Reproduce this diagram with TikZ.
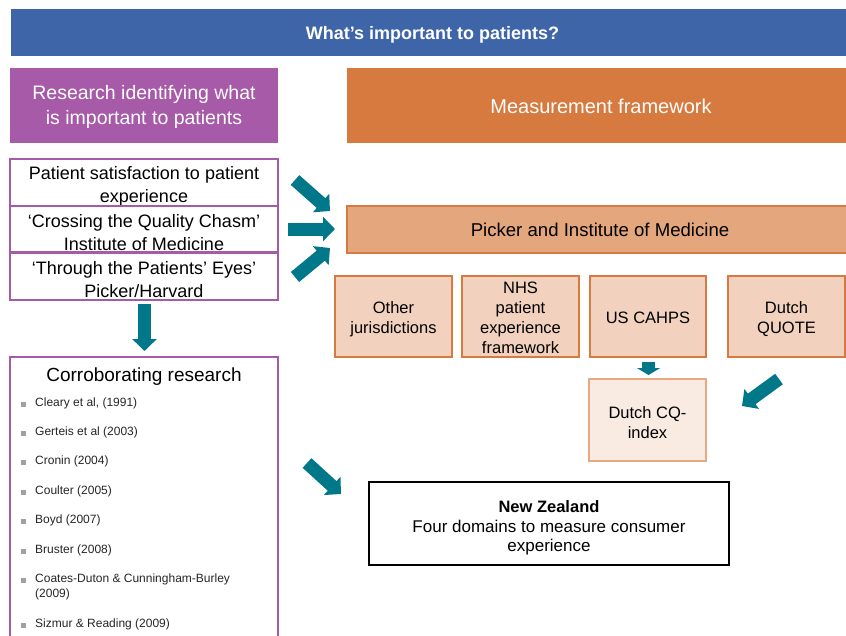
\documentclass[tikz,border=0pt]{standalone}
\usepackage{fontspec}
\setmainfont{Liberation Sans}
\usetikzlibrary{arrows.meta}
\definecolor{bannerblue}{HTML}{3F65A9}
\definecolor{hdrpurple}{HTML}{A65AA8}
\definecolor{hdrorange}{HTML}{D77A3F}
\definecolor{pickfill}{HTML}{E3A67D}
\definecolor{subfill}{HTML}{F2D2BE}
\definecolor{cqfill}{HTML}{FAEBE2}
\definecolor{cqdraw}{HTML}{E8A882}
\definecolor{arrowteal}{HTML}{00788A}
\definecolor{bulletgray}{HTML}{A0A0A0}
\definecolor{bullettxt}{HTML}{262626}
\begin{document}
\begin{tikzpicture}[x=1pt,y=-1pt,
  box/.style={inner sep=0pt, outer sep=0pt, anchor=north west},
  txt/.style={inner sep=0pt, align=center},
  leftbox/.style={box, draw=hdrpurple, line width=2.5pt, minimum width=268pt},
  lefttxt/.style={txt, font=\fontsize{18}{23}\selectfont},
  subbox/.style={box, fill=subfill, draw=hdrorange, line width=2.5pt, minimum height=81pt},
  subtxt/.style={txt, font=\fontsize{16.5}{20}\selectfont},
  blockarrow/.style={draw=arrowteal, line width=13pt, -{Triangle[width=24pt,length=12pt]}},
  bulletsq/.style={fill=bulletgray, minimum size=5pt, inner sep=0pt},
  bullettext/.style={anchor=west, inner sep=0pt, font=\fontsize{12}{15}\selectfont, text=bullettxt, align=left}]
\clip (0,0) rectangle (846,635);
\fill[white] (0,0) rectangle (846,635);

% top banner
\node[box, fill=bannerblue, minimum width=843pt, minimum height=47pt] (banner) at (11,9) {};
\node[txt, text=white, font=\bfseries\fontsize{18}{21}\selectfont] (title) at ([yshift=-2pt]banner.center) {What’s important to patients?};

% headers
\node[box, fill=hdrpurple, minimum width=268pt, minimum height=75pt] (research) at (10,68) {};
\node[txt, text=white, font=\fontsize{19.5}{25}\selectfont] (researchtxt) at ([yshift=-1.5pt]research.center) {Research identifying what\\is important to patients};
\node[box, fill=hdrorange, minimum width=508pt, minimum height=75pt] (measure) at (347,68) {};
\node[txt, text=white, font=\fontsize{20}{25}\selectfont] (measuretxt) at ([yshift=-1pt]measure.center) {Measurement framework};

% left boxes
\node[leftbox, minimum height=47pt] (sat) at (10,159) {};
\node[lefttxt] (sattxt) at ([yshift=-3.5pt]sat.center) {Patient satisfaction to patient\\experience};
\node[leftbox, minimum height=46pt] (chasm) at (10,206) {};
\node[lefttxt] (chasmtxt) at ([yshift=-3.5pt]chasm.center) {‘Crossing the Quality Chasm’\\Institute of Medicine};
\node[leftbox, minimum height=47pt] (eyes) at (10,253) {};
\node[lefttxt] (eyestxt) at ([yshift=-3.5pt]eyes.center) {‘Through the Patients’ Eyes’\\Picker/Harvard};

% Picker box
\node[box, fill=pickfill, draw=hdrorange, line width=2.5pt, minimum width=506pt, minimum height=47pt] (picker) at (347,206) {};
\node[txt, font=\fontsize{18.6}{23}\selectfont] (pickertxt) at (picker.center) {Picker and Institute of Medicine};

% sub boxes
\node[subbox, minimum width=117pt] (other) at (335,276) {};
\node[subtxt] (othertxt) at ([yshift=-3pt]other.center) {Other\\jurisdictions};
\node[subbox, minimum width=117pt] (nhs) at (462,276) {};
\node[subtxt] (nhstxt) at ([yshift=-1pt]nhs.center) {NHS\\patient\\experience\\framework};
\node[subbox, minimum width=116pt] (cahps) at (590,276) {};
\node[subtxt] (cahpstxt) at ([yshift=-1pt]cahps.center) {US CAHPS};
\node[subbox, minimum width=117pt] (quote) at (728,276) {};
\node[subtxt] (quotetxt) at ([yshift=-3pt]quote.center) {Dutch\\QUOTE};

% Dutch CQ-index
\node[box, fill=cqfill, draw=cqdraw, line width=2.5pt, minimum width=117pt, minimum height=82pt] (cq) at (589,379) {};
\node[subtxt] (cqtxt) at ([yshift=-3pt]cq.center) {Dutch CQ-\\index};

% New Zealand
\node[box, draw=black, line width=2pt, minimum width=360pt, minimum height=83pt] (nz) at (369,482) {};
\node[txt, font=\fontsize{17}{19.5}\selectfont] (nztxt) at ([yshift=-4.5pt]nz.center) {{\bfseries\fontsize{16.5}{19.5}\selectfont New Zealand}\\Four domains to measure consumer\\experience};

% Corroborating research
\node[box, draw=hdrpurple, line width=2.5pt, minimum width=268pt, minimum height=300pt] (corr) at (10,357) {};
\node[txt, font=\fontsize{19}{23}\selectfont] (corrtitle) at (144,377) {Corroborating research};

\node[bulletsq] (q1) at (23.5,404) {}; \node[bullettext] (b1) at (35,403.5) {Cleary et al, (1991)};
\node[bulletsq] (q2) at (23.5,433) {}; \node[bullettext] (b2) at (35,432.5) {Gerteis et al (2003)};
\node[bulletsq] (q3) at (23.5,462) {}; \node[bullettext] (b3) at (35,461.5) {Cronin (2004)};
\node[bulletsq] (q4) at (23.5,492) {}; \node[bullettext] (b4) at (35,491.5) {Coulter (2005)};
\node[bulletsq] (q5) at (23.5,521) {}; \node[bullettext] (b5) at (35,520.5) {Boyd (2007)};
\node[bulletsq] (q6) at (23.5,551) {}; \node[bullettext] (b6) at (35,550.5) {Bruster (2008)};
\node[bulletsq] (q7) at (23.5,580) {}; \node[bullettext] (b7) at (35,587) {Coates-Duton \& Cunningham-Burley\\(2009)};
\node[bulletsq] (q8) at (23.5,625) {}; \node[bullettext] (b8) at (35,624.5) {Sizmur \& Reading (2009)};

% arrows
\coordinate (a1s) at (295,180); \coordinate (a1e) at (330,211);
\coordinate (a2s) at (288,229); \coordinate (a2e) at (335,229);
\coordinate (a3s) at (295,277); \coordinate (a3e) at (330,248);
\coordinate (a4s) at (144.5,304); \coordinate (a4e) at (144.5,351);
\coordinate (a5s) at (648.5,362); \coordinate (a5e) at (648.5,375);
\coordinate (a6s) at (779,379); \coordinate (a6e) at (742,406);
\coordinate (a7s) at (307,463); \coordinate (a7e) at (341,494);
\draw[blockarrow] (a1s) -- (a1e);
\draw[blockarrow] (a2s) -- (a2e);
\draw[blockarrow] (a3s) -- (a3e);
\draw[blockarrow] (a4s) -- (a4e);
\draw[draw=arrowteal, line width=13pt, -{Triangle[width=23pt,length=7pt]}] (a5s) -- (a5e);
\draw[blockarrow] (a6s) -- (a6e);
\draw[blockarrow] (a7s) -- (a7e);
\end{tikzpicture}
\end{document}
